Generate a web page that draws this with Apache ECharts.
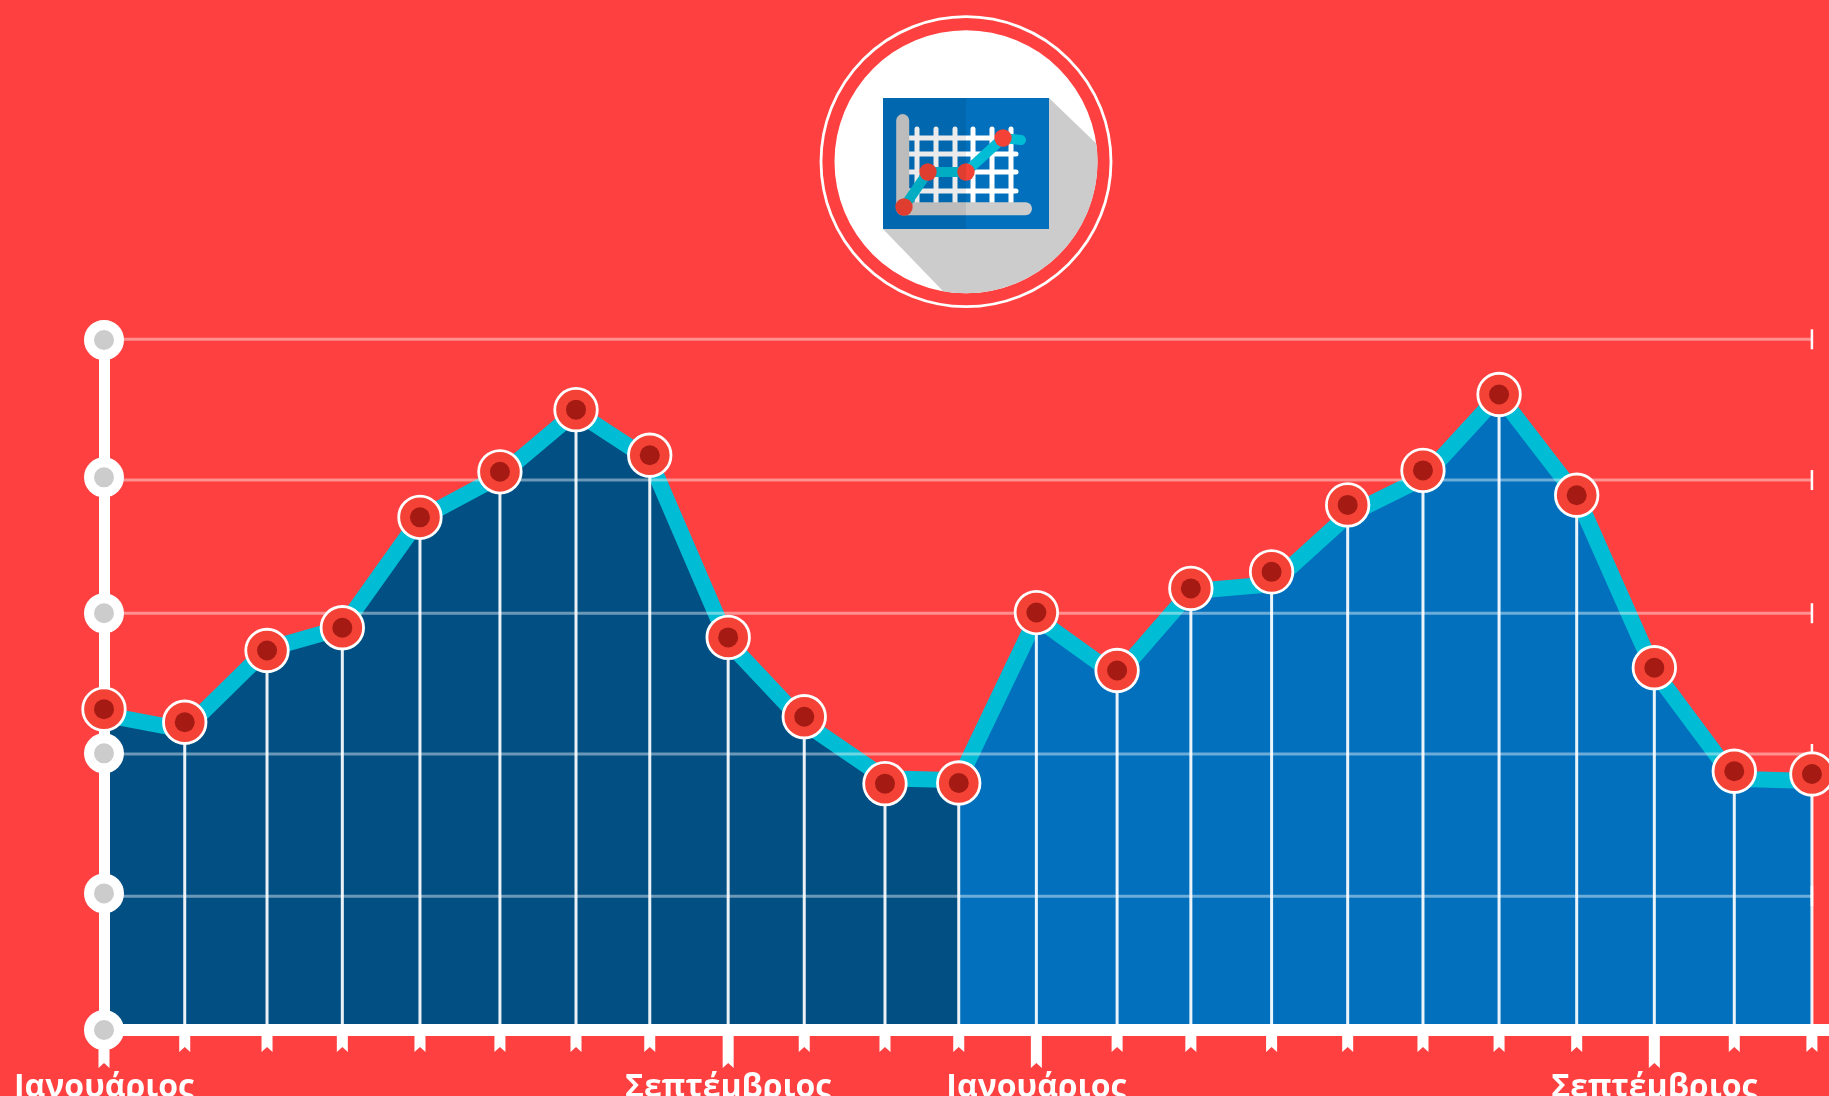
<!DOCTYPE html>
<html>
<head>
<meta charset="utf-8">
<title>Chart</title>
<style>
	html, body { margin: 0; padding: 0; background: #ff4040; }
	#main { width: 1829px; height: 1096px; }
</style>
<script src="https://cdn.jsdelivr.net/npm/echarts@6/dist/echarts.min.js"></script>
</head>
<body>
<div id="main"></div>
<script>
// values, the y axis has no labels so 0-100 is just a scale
var monthPos = [0, 1.04, 2.10, 3.07, 4.07, 5.10, 6.08, 7.03, 8.04, 9.02, 10.06, 11.01, 12.01, 13.05, 14.00, 15.04, 16.02, 16.99, 17.97, 18.97, 19.97, 21.00, 22.00];
var pointValues = [46.5, 44.6, 55.0, 58.3, 74.3, 80.9, 89.9, 83.3, 56.9, 45.4, 35.7, 35.8, 60.5, 52.1, 64.0, 66.4, 76.1, 81.1, 92.1, 77.5, 52.5, 37.5, 37.1];
// the drawn line does not pass exactly through the dots in the original
var lineValues = [45.7, 43.5, 55.2, 58.3, 74.1, 80.3, 89.6, 82.6, 56.2, 44.5, 36.5, 36.2, 59.7, 51.3, 63.6, 64.6, 74.6, 80.0, 92.0, 77.4, 52.0, 36.4, 36.1];
var axisDots = [0, 19.8, 40.1, 60.4, 80.1, 100];
var gridLevels = [19.4, 40, 60.4, 79.7, 100.1];
var majorIndex = [0, 8, 12, 20];
var majorLabels = ['Ιανουάριος', 'Σεπτέμβριος', 'Ιανουάριος', 'Σεπτέμβριος'];
var splitIndex = 11; // dark area up to here

var RED = '#ff4040';
var CYAN = '#00bcd4';

function pairs(xs, ys, from, to) {
	var out = [];
	for (var i = from; i <= to; i++) {
		out.push([xs[i], ys[i]]);
	}
	return out;
}

function areaSeries(name, from, to, color) {
	return {
		name: name,
		type: 'line',
		data: pairs(monthPos, lineValues, from, to),
		symbol: 'none',
		z: 2,
		lineStyle: { color: CYAN, width: 16, join: 'bevel' },
		areaStyle: { color: color, opacity: 1 }
	};
}

// ribbon shaped ticks under the x axis
function renderRibbon(params, api) {
	var p = api.coord([api.value(0), 0]);
	var len = api.value(1) ? 38 : 22;
	return {
		type: 'polygon',
		shape: { points: [
			[p[0] - 5.5, p[1]],
			[p[0] + 5.5, p[1]],
			[p[0] + 5.5, p[1] + len],
			[p[0], p[1] + len - 5],
			[p[0] - 5.5, p[1] + len]
		] },
		style: { fill: '#fff' }
	};
}

function renderGridLine(params, api) {
	var a = api.coord([0, api.value(0)]);
	var b = api.coord([monthPos[monthPos.length - 1], api.value(0)]);
	return {
		type: 'group',
		children: [
			{ type: 'line', shape: { x1: a[0], y1: a[1], x2: b[0], y2: b[1] }, style: { stroke: 'rgba(255,255,255,0.42)', lineWidth: 3 } },
			{ type: 'line', shape: { x1: b[0], y1: b[1] - 10, x2: b[0], y2: b[1] + 10 }, style: { stroke: '#fff', lineWidth: 2.5 } }
		]
	};
}

function renderDrop(params, api) {
	var a = api.coord([api.value(0), 0]);
	var b = api.coord([api.value(0), api.value(1)]);
	return {
		type: 'line',
		shape: { x1: a[0], y1: a[1], x2: b[0], y2: b[1] },
		style: { stroke: 'rgba(255,255,255,0.92)', lineWidth: 3 }
	};
}

// the round icon above the chart
function iconGraphic() {
	var cx = 966, cy = 161.7;
	var items = [];
	items.push({ type: 'circle', shape: { cx: cx, cy: cy, r: 145 }, style: { fill: null, stroke: '#fff', lineWidth: 2.8 } });
	items.push({ type: 'circle', shape: { cx: cx, cy: cy, r: 131.5 }, style: { fill: '#fff' } });

	var shadow = [[883, 229], [1049, 229], [1049, 98]];
	for (var d = -8; d <= 100; d += 2) {
		var r = d * Math.PI / 180;
		shadow.push([cx + 131.5 * Math.cos(r), cy + 131.5 * Math.sin(r)]);
	}
	items.push({ type: 'polygon', shape: { points: shadow }, style: { fill: '#ccc' } });
	items.push({ type: 'rect', shape: { x: 883, y: 98, width: 166, height: 131 }, style: { fill: '#0270bd' } });

	[917, 936, 955, 973, 992, 1011].forEach(function (x) {
		items.push({ type: 'line', shape: { x1: x, y1: 129, x2: x, y2: 205 }, style: { stroke: '#fff', lineWidth: 5, lineCap: 'round' } });
	});
	[138, 154, 172, 191].forEach(function (y) {
		items.push({ type: 'line', shape: { x1: 905, y1: y, x2: 1016, y2: y }, style: { stroke: '#fff', lineWidth: 5, lineCap: 'round' } });
	});
	items.push({ type: 'line', shape: { x1: 902.7, y1: 120.5, x2: 902.7, y2: 208.7 }, style: { stroke: '#ccc', lineWidth: 13, lineCap: 'round' } });
	items.push({ type: 'line', shape: { x1: 902.7, y1: 208.7, x2: 1025.5, y2: 208.7 }, style: { stroke: '#ccc', lineWidth: 13, lineCap: 'round' } });

	items.push({ type: 'polyline', shape: { points: [[904, 207], [928, 172], [966, 172], [1003, 138], [1021, 140]] }, style: { fill: null, stroke: CYAN, lineWidth: 10, lineCap: 'round' } });
	[[904, 207], [928, 172], [966, 172], [1003, 138]].forEach(function (p) {
		items.push({ type: 'circle', shape: { cx: p[0], cy: p[1], r: 8.7 }, style: { fill: '#f44336' } });
	});
	// left half of the icon is a bit darker
	items.push({ type: 'rect', shape: { x: 883, y: 98, width: 83, height: 131 }, style: { fill: 'rgba(0,0,0,0.08)' } });
	return items;
}

var myChart = echarts.init(document.getElementById('main'));
var option = {
	backgroundColor: RED,
	animation: false,
	graphic: iconGraphic(),
	grid: { left: 104, right: 0, top: 340, bottom: 66, containLabel: false, outerBoundsMode: 'none' },
	xAxis: {
		type: 'value',
		min: 0,
		max: 22.22,
		z: 3,
		splitLine: { show: false },
		axisTick: { show: false },
		axisLine: { show: true, onZero: false, lineStyle: { color: '#fff', width: 12, cap: 'round' } },
		axisLabel: {
			show: true,
			customValues: majorIndex.map(function (i) { return monthPos[i]; }),
			margin: 42,
			color: '#fff',
			fontFamily: 'Open Sans',
			fontWeight: 'bold',
			fontSize: 32,
			formatter: function (v) {
				for (var i = 0; i < majorIndex.length; i++) {
					if (monthPos[majorIndex[i]] === v) return majorLabels[i];
				}
				return '';
			}
		}
	},
	yAxis: {
		type: 'value',
		min: 0,
		max: 100,
		z: 3,
		splitLine: { show: false },
		axisTick: { show: false },
		axisLabel: { show: false },
		axisLine: { show: true, lineStyle: { color: '#fff', width: 11 } }
	},
	series: [
		areaSeries('dark', 0, splitIndex, '#024f83'),
		areaSeries('light', splitIndex, monthPos.length - 1, '#0270bd'),
		{
			name: 'grid',
			type: 'custom',
			renderItem: renderGridLine,
			data: gridLevels.map(function (v) { return [v]; }),
			encode: { y: 0 },
			clip: false,
			silent: true,
			z: 3
		},
		{
			name: 'drops',
			type: 'custom',
			renderItem: renderDrop,
			data: pairs(monthPos, pointValues, 0, monthPos.length - 1).slice(1),
			clip: false,
			silent: true,
			z: 4
		},
		{
			name: 'ribbons',
			type: 'custom',
			renderItem: renderRibbon,
			data: monthPos.map(function (x, i) { return [x, majorIndex.indexOf(i) >= 0 ? 1 : 0]; }),
			clip: false,
			silent: true,
			z: 1
		},
		{
			name: 'axisDots',
			type: 'scatter',
			data: axisDots.map(function (v) { return [0, v]; }),
			symbolSize: 30,
			clip: false,
			silent: true,
			itemStyle: { color: '#ccc', borderColor: '#fff', borderWidth: 10, opacity: 1 },
			z: 5
		},
		{
			name: 'points',
			type: 'scatter',
			data: pairs(monthPos, pointValues, 0, monthPos.length - 1),
			symbolSize: 42.5,
			clip: false,
			silent: true,
			itemStyle: { color: '#f44336', borderColor: '#fff', borderWidth: 2.8, opacity: 1 },
			z: 6
		},
		{
			name: 'pointCenters',
			type: 'scatter',
			data: pairs(monthPos, pointValues, 0, monthPos.length - 1),
			symbolSize: 20,
			clip: false,
			silent: true,
			itemStyle: { color: '#a61a14', opacity: 1 },
			z: 7
		}
	]
};
myChart.setOption(option);
</script>
</body>
</html>
